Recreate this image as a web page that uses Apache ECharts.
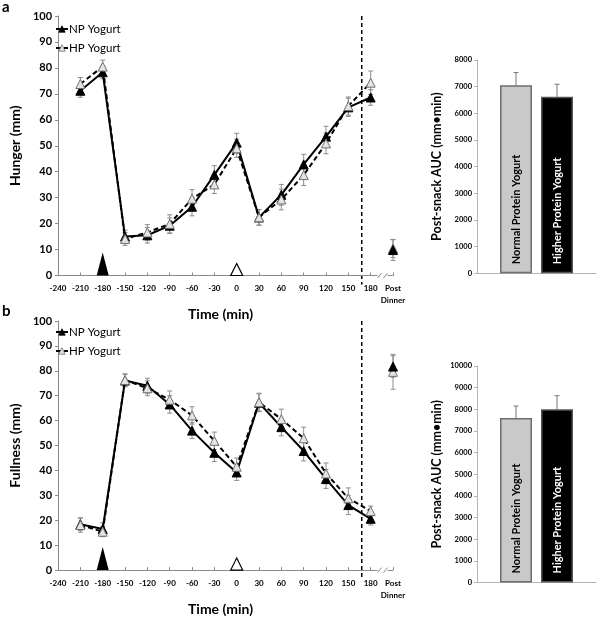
<!DOCTYPE html>
<html>
<head>
<meta charset="utf-8">
<script src="https://cdn.jsdelivr.net/npm/echarts@6/dist/echarts.min.js"></script>
<style>
html,body{margin:0;padding:0;background:#fff;}
#chart{width:600px;height:617px;}
</style>
</head>
<body>
<div id="chart"></div>
<script>
// ---------- DATA ----------
const timePoints = [-210, -180, -150, -120, -90, -60, -30, 0, 30, 60, 90, 120, 150, 180];
const postDinnerX = 210;
const dinnerTime = 168;
const snackNP = -180;   // filled triangle marker
const snackHP = 0;      // open triangle marker

const hungerNP    = [71.2, 78.3, 15.0, 15.5, 19.2, 26.5, 38.8, 51.2, 22.4, 31.1, 42.8, 53.5, 64.8, 68.6];
const hungerNPErr = [2.5, 2.5, 2.5, 3.0, 3.0, 3.5, 3.5, 3.6, 3.0, 4.0, 3.9, 4.0, 3.5, 3.0];
const hungerHP    = [73.8, 80.5, 14.1, 16.6, 19.9, 29.6, 35.1, 49.0, 22.4, 29.3, 38.7, 50.9, 65.3, 74.3];
const hungerHPErr = [2.5, 2.5, 2.5, 3.0, 3.5, 3.5, 3.5, 3.5, 3.0, 4.0, 4.0, 4.0, 3.5, 4.5];
const hungerPostNP = [9.8, 4.0];   // value, error
const hungerPostHP = [10.4, 3.5];

const fullNP    = [18.4, 16.5, 76.1, 74.0, 66.5, 56.0, 47.1, 39.2, 67.2, 57.4, 47.8, 36.6, 26.1, 20.6];
const fullNPErr = [2.5, 2.5, 2.5, 3.0, 3.5, 3.2, 3.5, 3.2, 3.6, 3.5, 4.0, 3.8, 3.8, 2.5];
const fullHP    = [18.1, 15.4, 76.3, 73.0, 68.4, 62.1, 51.9, 41.5, 67.4, 60.6, 52.9, 38.8, 28.8, 23.7];
const fullHPErr = [2.9, 2.0, 2.5, 3.0, 3.5, 3.5, 3.5, 3.5, 3.6, 4.0, 4.5, 4.2, 4.2, 2.0];
const fullPostNP = [81.7, 4.3];
const fullPostHP = [79.6, 7.0];

const xTicks = [-240, -210, -180, -150, -120, -90, -60, -30, 0, 30, 60, 90, 120, 150, 180, 210];
const postLabel = 'Post\nDinner';

const aucNames = ['Normal Protein Yogurt', 'Higher Protein Yogurt'];
const hungerAUC = [7050, 6620];
const hungerAUCErr = [480, 470];
const fullAUC = [7600, 8000];
const fullAUCErr = [550, 630];

// ---------- STYLE ----------
const FONT = 'Lato';
const AX = '#8a8a8a';
const ERRC = '#8c8c8c';
const BAR_W = 32, BAR_GAP = 9;

const chart = echarts.init(document.getElementById('chart'), null, {renderer: 'canvas'});

function pairs(xs, ys) { return xs.map((x, i) => [x, ys[i]]); }
function triples(xs, ys, es) { return xs.map((x, i) => [x, ys[i], es[i]]); }

function errRender(params, api) {
  const x = api.value(0), y = api.value(1), e = api.value(2);
  const hi = api.coord([x, y + e]);
  const lo = api.coord([x, y - e]);
  const c = 2.5;
  const st = {stroke: ERRC, lineWidth: 1};
  return {type: 'group', children: [
    {type: 'line', shape: {x1: hi[0], y1: hi[1], x2: lo[0], y2: lo[1]}, style: st},
    {type: 'line', shape: {x1: hi[0] - c, y1: hi[1], x2: hi[0] + c, y2: hi[1]}, style: st},
    {type: 'line', shape: {x1: lo[0] - c, y1: lo[1], x2: lo[0] + c, y2: lo[1]}, style: st}
  ]};
}

function dinnerRender(params, api) {
  const x = api.value(0);
  const top = api.coord([x, 100]);
  const bot = api.coord([x, 0]);
  return {type: 'line', shape: {x1: top[0], y1: top[1], x2: bot[0], y2: bot[1] + 9},
    style: {stroke: '#000', lineWidth: 1.5, lineDash: [4, 3]}};
}

function barErrRender(params, api) {
  const idx = api.value(0), y = api.value(1), e = api.value(2);
  const base = api.coord([0, y]);
  const top = api.coord([0, y + e]);
  const off = (idx === 0 ? -1 : 1) * (BAR_W + BAR_GAP) / 2;
  const x = base[0] + off;
  const c = 2.5;
  const st = {stroke: '#777', lineWidth: 1};
  return {type: 'group', children: [
    {type: 'line', shape: {x1: x, y1: base[1], x2: x, y2: top[1]}, style: st},
    {type: 'line', shape: {x1: x - c, y1: top[1], x2: x + c, y2: top[1]}, style: st}
  ]};
}

function lineXAxis(gi, gap) {
  return {
    gridIndex: gi, type: 'value', min: -240, max: 210, interval: 30,
    name: 'Time (min)', nameLocation: 'middle', nameGap: gap,
    nameTextStyle: {fontFamily: FONT, fontWeight: 'bold', fontSize: 14, color: '#000', padding: [0, 10, 0, 0]},
    axisLine: {onZero: false, lineStyle: {color: AX, width: 1}},
    axisTick: {show: true, inside: true, length: 3, lineStyle: {color: AX}},
    axisLabel: {fontFamily: FONT, fontWeight: 'bold', fontSize: 8, color: '#000', margin: 7,
      lineHeight: 12,
      formatter: v => (v === postDinnerX ? postLabel : String(v)),
      customValues: xTicks},
    splitLine: {show: false}
  };
}
function lineYAxis(gi, name) {
  return {
    gridIndex: gi, type: 'value', min: 0, max: 100, interval: 10,
    name: name, nameLocation: 'middle', nameGap: 31,
    nameTextStyle: {fontFamily: FONT, fontWeight: 'bold', fontSize: 14, color: '#000'},
    axisLine: {show: true, onZero: false, lineStyle: {color: AX, width: 1}},
    axisTick: {show: true, length: 3, lineStyle: {color: AX}},
    axisLabel: {fontFamily: FONT, fontWeight: 'bold', fontSize: 11, color: '#000', margin: 6},
    splitLine: {show: false}
  };
}
function barXAxis(gi) {
  return {
    gridIndex: gi, type: 'category', data: [''],
    axisLine: {lineStyle: {color: '#b5b5b5', width: 1}},
    axisTick: {show: false}, axisLabel: {show: false}
  };
}
function barYAxis(gi, max) {
  return {
    gridIndex: gi, type: 'value', min: 0, max: max, interval: 1000,
    name: 'Post-snack AUC (mm\u2022min)', nameLocation: 'middle', nameGap: 34,
    nameTextStyle: {fontFamily: FONT, fontWeight: 'bold', fontSize: 12.5, color: '#000'},
    axisLine: {show: true, onZero: false, lineStyle: {color: '#b5b5b5', width: 1}},
    axisTick: {show: true, length: 3, lineStyle: {color: '#b5b5b5'}},
    axisLabel: {fontFamily: FONT, fontWeight: 'bold', fontSize: 7.5, color: '#000', margin: 5,
      formatter: v => String(v)},
    splitLine: {show: false}
  };
}

const npStyle = {color: '#000', borderColor: '#000', borderWidth: 1, opacity: 1};
const hpStyle = {color: '#e4e4e4', borderColor: '#707070', borderWidth: 1, opacity: 1};

function lineSeries(gi, np, npErr, hp, hpErr, postNP, postHP) {
  return [
    {type: 'custom', xAxisIndex: gi, yAxisIndex: gi, renderItem: dinnerRender, encode: {x: 0},
      data: [[dinnerTime]], z: 0, silent: true, clip: false},
    {type: 'custom', xAxisIndex: gi, yAxisIndex: gi, renderItem: errRender, encode: {x: 0, y: 1},
      data: triples(timePoints, hp, hpErr), z: 1, silent: true},
    {type: 'custom', xAxisIndex: gi, yAxisIndex: gi, renderItem: errRender, encode: {x: 0, y: 1},
      data: triples(timePoints, np, npErr), z: 1, silent: true},
    {type: 'custom', xAxisIndex: gi, yAxisIndex: gi, renderItem: errRender, encode: {x: 0, y: 1},
      data: [[postDinnerX, postHP[0], postHP[1]], [postDinnerX, postNP[0], postNP[1]]], z: 1, silent: true, clip: false},
    {name: 'NP Yogurt', type: 'line', xAxisIndex: gi, yAxisIndex: gi, data: pairs(timePoints, np),
      symbol: 'triangle', symbolSize: 9, showAllSymbol: true,
      lineStyle: {color: '#000', width: 2}, itemStyle: npStyle, z: 3},
    {name: 'HP Yogurt', type: 'line', xAxisIndex: gi, yAxisIndex: gi, data: pairs(timePoints, hp),
      symbol: 'triangle', symbolSize: 9, showAllSymbol: true,
      lineStyle: {color: '#000', width: 2, type: [5, 3]}, itemStyle: hpStyle, z: 4},
    {name: 'HP post dinner', type: 'scatter', xAxisIndex: gi, yAxisIndex: gi, data: [[postDinnerX, postHP[0]]],
      symbol: 'triangle', symbolSize: 9, itemStyle: hpStyle, z: 4, clip: false},
    {name: 'NP post dinner', type: 'scatter', xAxisIndex: gi, yAxisIndex: gi, data: [[postDinnerX, postNP[0]]],
      symbol: 'triangle', symbolSize: 9, itemStyle: npStyle, z: 5, clip: false},
    {type: 'scatter', xAxisIndex: gi, yAxisIndex: gi, data: [[snackNP, 0]], silent: true,
      symbol: 'triangle', symbolSize: [12, 23], symbolOffset: [0, '-50%'],
      itemStyle: {color: '#000', opacity: 1}, z: 2, clip: false},
    {type: 'scatter', xAxisIndex: gi, yAxisIndex: gi, data: [[snackHP, 0]], silent: true,
      symbol: 'triangle', symbolSize: [12, 12], symbolOffset: [0, '-50%'],
      itemStyle: {color: '#fff', borderColor: '#000', borderWidth: 1.2, opacity: 1}, z: 2, clip: false}
  ];
}

function barSeries(gi, vals, errs) {
  const lbl = (color) => ({show: true, position: 'insideBottom', rotate: 90, align: 'left',
    verticalAlign: 'middle', distance: 9, fontFamily: FONT, fontWeight: 'bold', fontSize: 11,
    color: color, formatter: p => p.seriesName});
  return [
    {name: aucNames[0], type: 'bar', xAxisIndex: gi, yAxisIndex: gi, data: [vals[0]],
      barWidth: BAR_W, barGap: (BAR_GAP / BAR_W * 100) + '%',
      itemStyle: {color: '#c9c9c9', borderColor: '#6e6e6e', borderWidth: 1.5}, label: lbl('#000')},
    {name: aucNames[1], type: 'bar', xAxisIndex: gi, yAxisIndex: gi, data: [vals[1]],
      barWidth: BAR_W, barGap: (BAR_GAP / BAR_W * 100) + '%',
      itemStyle: {color: '#000', borderColor: '#555', borderWidth: 1.5}, label: lbl('#fff')},
    {type: 'custom', xAxisIndex: gi, yAxisIndex: gi, renderItem: barErrRender, silent: true,
      encode: {x: 0, y: 1}, data: [[0, vals[0], errs[0]], [1, vals[1], errs[1]]], z: 1}
  ];
}

function legendFor(top) {
  return {
    data: ['NP Yogurt', 'HP Yogurt'], orient: 'vertical', left: 55, top: top,
    itemWidth: 12, itemHeight: 8, itemGap: 7, selectedMode: false, padding: 0,
    itemStyle: {borderWidth: 0.8},
    textStyle: {fontFamily: FONT, fontSize: 11.5, color: '#000', padding: [0, 0, 0, -4]}
  };
}

const option = {
  backgroundColor: '#fff',
  animation: false,
  grid: [
    {left: 41, top: 16, width: 352, height: 259.5},
    {left: 477, top: 60, width: 119, height: 213.3},
    {left: 41, top: 321, width: 352, height: 262},
    {left: 477, top: 366, width: 119, height: 216.5}
  ],
  legend: [legendFor(23), legendFor(326)],
  xAxis: [lineXAxis(0, 22), barXAxis(1), lineXAxis(2, 18), barXAxis(3)],
  yAxis: [lineYAxis(0, 'Hunger (mm)'), barYAxis(1, 8000), lineYAxis(2, 'Fullness (mm)'), barYAxis(3, 10000)],
  series: [].concat(
    lineSeries(0, hungerNP, hungerNPErr, hungerHP, hungerHPErr, hungerPostNP, hungerPostHP),
    barSeries(1, hungerAUC, hungerAUCErr),
    lineSeries(2, fullNP, fullNPErr, fullHP, fullHPErr, fullPostNP, fullPostHP),
    barSeries(3, fullAUC, fullAUCErr)
  ),
  graphic: [
    {type: 'text', left: 2, top: 0, style: {text: 'a', font: 'bold 15px ' + FONT, fill: '#000'}},
    {type: 'text', left: 2, top: 304, style: {text: 'b', font: 'bold 15px ' + FONT, fill: '#000'}}
  ]
};
chart.setOption(option);

// axis break marks "//" between 180 and Post Dinner
const breaks = [];
[0, 2].forEach(gi => {
  const p = chart.convertToPixel({gridIndex: gi}, [196, 0]);
  breaks.push({type: 'rect', shape: {x: p[0] - 5, y: p[1] - 1.5, width: 10, height: 3}, style: {fill: '#fff'}, z: 100});
  [-3, 3].forEach(dx => {
    breaks.push({type: 'line', shape: {x1: p[0] + dx - 2, y1: p[1] + 2.5, x2: p[0] + dx + 2, y2: p[1] - 2.5},
      style: {stroke: AX, lineWidth: 1}, z: 101});
  });
});
chart.setOption({graphic: option.graphic.concat(breaks)});
</script>
</body>
</html>
